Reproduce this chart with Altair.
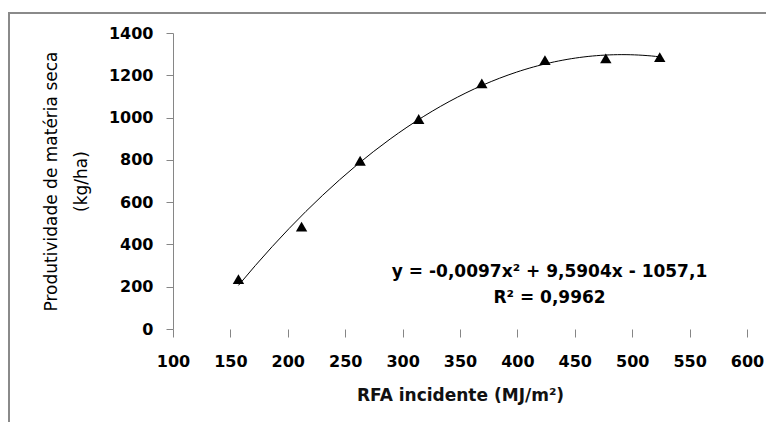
import altair as alt
import pandas as pd

rfa = [157, 212, 263, 314, 369, 424, 477, 524]
prod = [236, 484, 796, 993, 1162, 1272, 1280, 1286]

eq_lines = ["y = -0,0097x\u00b2 + 9,5904x - 1057,1", "R\u00b2 = 0,9962"]
eq_x = [428, 428]
eq_y = [270, 147]

x_ticks = [100, 150, 200, 250, 300, 350, 400, 450, 500, 550, 600]
y_ticks = [0, 200, 400, 600, 800, 1000, 1200, 1400]

FONT = "DejaVu Sans"
W, H = 574, 296
PAD = {"left": 165, "top": 25, "right": 19, "bottom": 93}

df = pd.DataFrame({"x": rfa, "y": prod})
ann = pd.DataFrame({"t": eq_lines, "x": eq_x, "y": eq_y})
one = pd.DataFrame({"a": [0]})

xs = alt.Scale(domain=[100, 600], nice=False)
ys = alt.Scale(domain=[0, 1400], nice=False)

xax = alt.Axis(values=x_ticks, format="d", title="RFA incidente (MJ/m\u00b2)", grid=False, domain=False,
               tickColor="#868686", tickSize=8, labelPadding=16, labelFontWeight="bold",
               labelFontSize=16, labelColor="black", labelFont=FONT, labelFlush=False,
               titleFont=FONT, titleFontSize=17, titleFontWeight=600, titleColor="#111111",
               titlePadding=18)
yax = alt.Axis(values=y_ticks, format="d", title=["Produtividade de matéria seca", "(kg/ha)"], grid=False,
               domainColor="#868686", tickColor="#868686", tickSize=7, labelPadding=13,
               labelFontWeight="bold", labelFontSize=16, labelColor="black", labelFont=FONT,
               labelFlush=False, titleFont=FONT, titleFontSize=17, titleFontWeight="normal",
               titleColor="black", titlePadding=18, titleLineHeight=30)

base = alt.Chart(df)

curve = base.transform_regression("x", "y", method="poly", order=2).mark_line(
    color="black", strokeWidth=1
).encode(x=alt.X("x:Q", scale=xs, axis=xax), y=alt.Y("y:Q", scale=ys, axis=yax))

pts = base.mark_point(shape="triangle-up", filled=True, color="black", size=130, opacity=1).encode(
    x=alt.X("x:Q", scale=xs), y=alt.Y("y:Q", scale=ys)
)

txt = alt.Chart(ann).mark_text(font=FONT, fontSize=17, fontWeight="bold", color="black").encode(
    x=alt.X("x:Q", scale=xs), y=alt.Y("y:Q", scale=ys), text="t:N"
)

frame_left = alt.Chart(one).mark_rule(color="#8a8a8a", strokeWidth=2).encode(
    x=alt.value(-164), y=alt.value(-21), y2=alt.value(H + PAD["bottom"])
)
frame_top = alt.Chart(one).mark_rule(color="#8a8a8a", strokeWidth=2).encode(
    x=alt.value(-165), x2=alt.value(W + PAD["right"]), y=alt.value(-20)
)

chart = alt.layer(curve, pts, txt, frame_left, frame_top).properties(
    width=W, height=H, padding=PAD, autosize=alt.AutoSizeParams(type="none")
).configure_view(stroke=None)

chart.save("out.html", embed_options={"renderer": "svg", "actions": False})
